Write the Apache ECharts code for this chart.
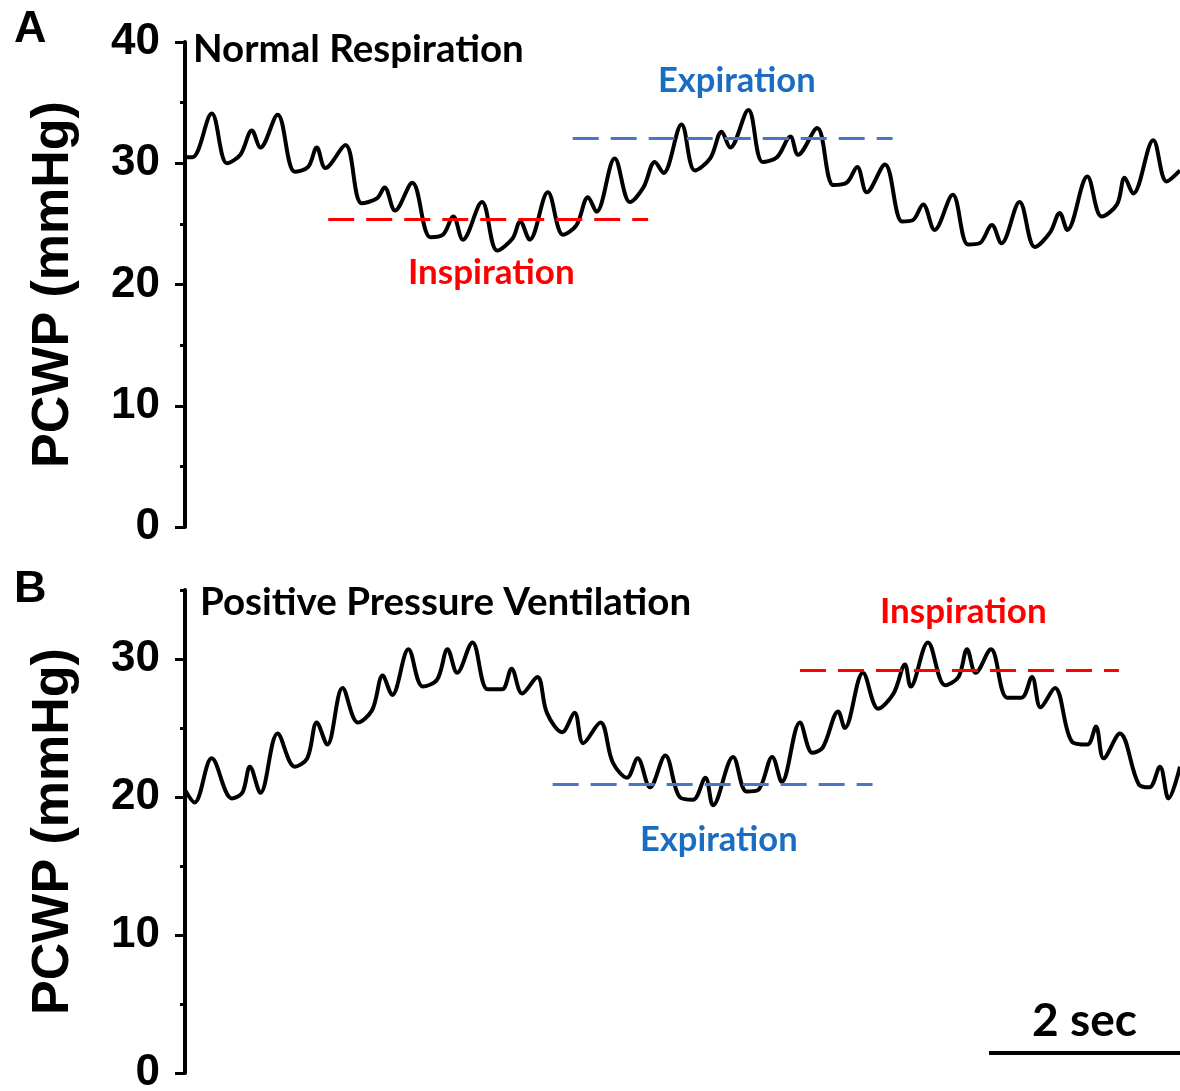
<!DOCTYPE html>
<html>
<head>
<meta charset="utf-8">
<script src="https://cdn.jsdelivr.net/npm/echarts@6/dist/echarts.min.js"></script>
<style>
html,body{margin:0;padding:0;background:#fff;}
#chart{width:1180px;height:1091px;}
</style>
</head>
<body>
<div id="chart"></div>
<script>
// ---- Data (time in seconds, PCWP in mmHg) ----
const timeA = [0.01,0.08,0.28,0.44,0.58,0.70,0.79,0.97,1.15,1.29,1.38,1.47,1.68,1.85,2.01,2.09,2.20,2.38,2.57,2.70,2.81,2.91,3.11,3.27,3.43,3.51,3.61,3.80,3.96,4.10,4.22,4.31,4.50,4.66,4.80,4.92,5.01,5.20,5.34,5.50,5.62,5.71,5.90,6.05,6.20,6.34,6.42,6.62,6.79,6.93,7.04,7.14,7.33,7.51,7.62,7.73,7.85,8.04,8.20,8.32,8.45,8.55,8.74,8.90,9.06,9.16,9.24,9.45,9.60,9.76,9.84,9.93,10.14,10.28,10.42];
const pcwpA = [30.5,30.5,34.1,30.0,30.7,32.7,31.3,34.0,29.3,29.7,31.3,29.6,31.5,26.7,27.1,28.0,26.1,28.4,23.9,24.1,25.6,23.7,26.8,22.8,23.8,25.2,23.7,27.6,24.1,24.9,27.2,26.0,30.4,26.8,28.0,30.1,29.2,33.2,29.4,30.4,32.6,31.3,34.4,30.1,30.5,32.2,30.7,32.9,28.2,28.4,29.7,27.6,29.9,25.2,25.3,26.6,24.5,27.4,23.3,23.4,24.9,23.4,26.8,23.1,24.3,25.9,24.5,28.9,25.6,26.6,28.8,27.5,31.9,28.5,29.4];
const timeB = [0.00,0.10,0.28,0.49,0.60,0.68,0.79,0.97,1.15,1.28,1.38,1.49,1.65,1.81,1.96,2.07,2.17,2.34,2.49,2.64,2.75,2.85,3.01,3.17,3.32,3.42,3.53,3.69,3.79,3.95,4.08,4.17,4.35,4.48,4.63,4.74,4.87,5.03,5.18,5.32,5.45,5.53,5.74,5.88,6.00,6.15,6.25,6.44,6.57,6.68,6.84,6.91,7.10,7.26,7.42,7.54,7.60,7.78,7.96,8.10,8.19,8.28,8.44,8.61,8.76,8.87,8.96,9.11,9.29,9.45,9.54,9.62,9.79,9.99,10.10,10.21,10.30,10.42];
const pcwpB = [20.5,19.6,22.8,19.9,20.3,22.2,20.3,24.6,22.2,22.8,25.4,23.8,27.9,25.4,26.3,28.8,27.4,30.7,28.0,28.5,30.7,29.0,31.2,27.8,27.8,29.3,27.5,28.7,26.1,24.7,26.1,23.9,25.4,22.5,21.4,22.8,20.7,23.0,20.0,19.8,21.4,19.4,22.9,20.4,20.5,22.9,21.1,25.4,23.2,23.6,26.2,25.0,29.0,26.4,27.5,29.6,28.0,31.2,28.1,28.7,30.7,29.0,30.7,27.2,27.2,28.7,26.5,27.9,24.0,23.8,25.1,22.8,24.6,20.9,20.7,22.2,19.9,22.2];

// Reference lines: [start s, end s, mmHg]
const inspirationA = [1.50, 4.85, 25.4];
const expirationA  = [4.06, 7.41, 32.1];
const expirationB  = [3.85, 7.20, 20.9];
const inspirationB = [6.44, 9.78, 29.2];

// Axis ticks
const yMajorA = [0, 10, 20, 30, 40];
const yMinorA = [5, 15, 25, 35];
const yMajorB = [0, 10, 20, 30];
const yMinorB = [5, 15, 25, 35];
const yMaxA = 40, yMaxB = 35;
const tMax = 10.42;
const scaleBarSec = 2;
const scaleBarLevel = 1.5;

// ---- Styles ----
const BLUE_TXT = '#1a6dc2', BLUE_LN = '#4a74c9', RED = '#ff0000';
const LBL_FONT = 'Lato, "Open Sans", sans-serif';
const AX_FONT = '"Liberation Sans", Arial, sans-serif';

function zip(t, v){ return t.map((x,i)=>[x, v[i]]); }
function refLine(r, color){
  return [{coord:[r[0], r[2]], lineStyle:{color}}, {coord:[r[1], r[2]]}];
}
function mainY(gi, max, major){
  return {
    type:'value', gridIndex:gi, min:0, max:max, interval:10,
    name:'PCWP (mmHg)', nameLocation:'middle', nameRotate:90, nameGap:105,
    nameTextStyle:{fontFamily:AX_FONT, fontWeight:'bold', fontSize:52, color:'#000'},
    axisLine:{show:true, lineStyle:{color:'#000', width:4}},
    axisTick:{show:true, inside:false, length:10, lineStyle:{color:'#000', width:3}, customValues:major},
    axisLabel:{show:true, margin:25, fontFamily:AX_FONT, fontWeight:'bold', fontSize:44, color:'#000', customValues:major},
    splitLine:{show:false}
  };
}
function minorY(gi, max, minor){
  return {
    type:'value', gridIndex:gi, min:0, max:max, position:'left',
    axisLine:{show:false},
    axisTick:{show:true, inside:false, length:5, lineStyle:{color:'#000', width:3}, customValues:minor},
    axisLabel:{show:false},
    splitLine:{show:false}
  };
}
function txt(text, x, y, color, size){
  return {type:'text', x:x, y:y, silent:true,
    style:{text:text, fill:color, font:'bold '+size+'px '+LBL_FONT, align:'left', verticalAlign:'middle'}};
}

const chart = echarts.init(document.getElementById('chart'), null, {renderer:'canvas'});
chart.setOption({
  animation:false,
  backgroundColor:'#fff',
  grid:[
    {left:185, top:42, width:995, height:485, containLabel:false, outerBoundsMode:'none'},
    {left:185, top:590, width:995, height:483, containLabel:false, outerBoundsMode:'none'}
  ],
  xAxis:[
    {type:'value', gridIndex:0, min:0, max:tMax, show:false},
    {type:'value', gridIndex:1, min:0, max:tMax, show:false}
  ],
  yAxis:[
    mainY(0, yMaxA, yMajorA), minorY(0, yMaxA, yMinorA),
    mainY(1, yMaxB, yMajorB), minorY(1, yMaxB, yMinorB)
  ],
  series:[
    {type:'line', xAxisIndex:0, yAxisIndex:0, data:zip(timeA, pcwpA), smooth:0.35, showSymbol:false,
     lineStyle:{color:'#000', width:4},
     markLine:{silent:true, symbol:['none','none'], label:{show:false},
       lineStyle:{type:[26,12], width:3},
       data:[refLine(inspirationA, RED), refLine(expirationA, BLUE_LN)]}},
    {type:'line', xAxisIndex:1, yAxisIndex:2, data:zip(timeB, pcwpB), smooth:0.35, showSymbol:false,
     lineStyle:{color:'#000', width:4},
     markLine:{silent:true, symbol:['none','none'], label:{show:false},
       lineStyle:{type:[26,12], width:3},
       data:[refLine(expirationB, BLUE_LN), refLine(inspirationB, RED),
         [{coord:[tMax - scaleBarSec, scaleBarLevel], lineStyle:{color:'#000', type:'solid', width:4},
           label:{show:true, position:'middle', formatter:scaleBarSec + ' sec', distance:8,
             fontFamily:LBL_FONT, fontWeight:'bold', fontSize:46, color:'#000'}},
          {coord:[tMax, scaleBarLevel]}]]}}
  ],
  graphic:[
    {type:'text', x:14, y:30, silent:true, style:{text:'A', fill:'#000', font:'bold 45px '+AX_FONT, align:'left', verticalAlign:'middle'}},
    {type:'text', x:14, y:590, silent:true, style:{text:'B', fill:'#000', font:'bold 45px '+AX_FONT, align:'left', verticalAlign:'middle'}},
    txt('Normal Respiration', 193, 50, '#000', 38.5),
    txt('Expiration', 658, 81, BLUE_TXT, 34.5),
    txt('Inspiration', 408, 273, RED, 35),
    txt('Positive Pressure Ventilation', 200, 603, '#000', 38.5),
    txt('Inspiration', 880, 612, RED, 35),
    txt('Expiration', 640, 840, BLUE_TXT, 34.5)
  ]
});
</script>
</body>
</html>
